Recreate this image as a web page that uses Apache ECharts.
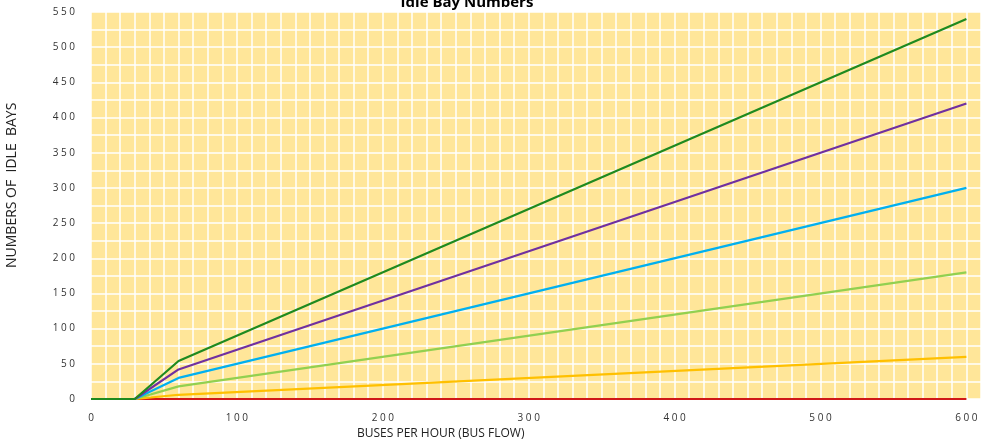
<!DOCTYPE html>
<html>
<head>
<meta charset="utf-8">
<script src="https://cdn.jsdelivr.net/npm/echarts@6/dist/echarts.min.js"></script>
<style>
  html, body { margin: 0; padding: 0; background: #fff; }
  #chart { width: 984px; height: 446px; }
</style>
</head>
<body>
<div id="chart"></div>
<script>
// buses per hour
var busFlow = [0, 30, 60, 600];
// idle bays per series
var red = [0, 0, 0, 0];
var orange = [0, 0, 6, 60];
var lightGreen = [0, 0, 18, 180];
var blue = [0, 0, 30, 300];
var purple = [0, 0, 42, 420];
var green = [0, 0, 54, 540];

var seriesList = [
  { data: red, color: "#d01818" },
  { data: orange, color: "#ffc000" },
  { data: lightGreen, color: "#92d050" },
  { data: blue, color: "#00b0f0" },
  { data: purple, color: "#7030a0" },
  { data: green, color: "#1f8a1f" }
];

// tick labels in the reference are letter-spaced
function spaced(v) {
  return String(v).split("").join(" ");
}

var myChart = echarts.init(document.getElementById("chart"));
var font = "'Open Sans', 'Liberation Sans', sans-serif";

var option = {
  animation: false,
  title: {
    text: "Idle Bay Numbers",
    left: 462,
    textAlign: "center",
    top: -10,
    textStyle: { fontSize: 15, fontWeight: "bold", color: "#000", fontFamily: font }
  },
  grid: { left: 91, right: 0, top: 12, bottom: 47, backgroundColor: "#ffe699", show: true, borderWidth: 0 },
  xAxis: {
    type: "value",
    min: 0,
    max: 610,
    interval: 10,
    axisLine: { show: false },
    axisTick: { show: false },
    axisLabel: {
      color: "#333",
      fontSize: 10,
      fontFamily: font,
      margin: 14,
      formatter: function (v) {
        return v % 100 === 0 && v <= 600 ? spaced(v) : "";
      }
    },
    splitLine: { show: true, lineStyle: { color: "#ffffff", width: 1.5 } }
  },
  yAxis: {
    type: "value",
    min: 0,
    max: 550,
    interval: 25,
    axisLine: { show: false },
    axisTick: { show: false },
    axisLabel: {
      color: "#333",
      fontSize: 10,
      fontFamily: font,
      margin: 16,
      formatter: function (v) {
        return v % 50 === 0 ? spaced(v) : "";
      }
    },
    splitLine: { show: true, lineStyle: { color: "#ffffff", width: 1.5 } }
  },
  graphic: [
    {
      type: "text",
      left: 357,
      top: 428,
      style: { text: "BUSES PER HOUR (BUS FLOW)", fill: "#222", font: "12px " + font }
    },
    {
      type: "text",
      x: 5,
      y: 268,
      rotation: Math.PI / 2,
      style: { text: "NUMBERS OF  IDLE  BAYS", fill: "#222", font: "14px " + font }
    }
  ],
  series: seriesList.map(function (s) {
    return {
      type: "line",
      data: busFlow.map(function (x, i) { return [x, s.data[i]]; }),
      symbol: "none",
      color: s.color,
      lineStyle: { width: 2.2, color: s.color }
    };
  })
};
myChart.setOption(option);
</script>
</body>
</html>
